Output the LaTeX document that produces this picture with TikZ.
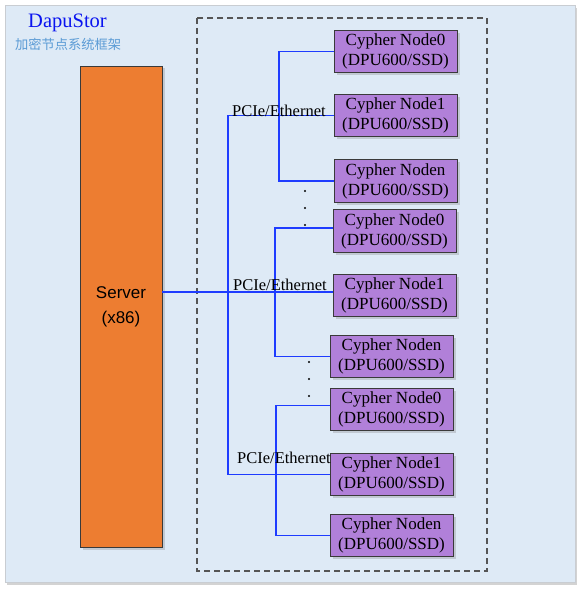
\documentclass[tikz,border=0pt]{standalone}
\usepackage{fontspec}
\setmainfont{Liberation Serif}
\setsansfont{Liberation Sans}
\newfontfamily\cjkfont{Noto Sans CJK SC}
\usetikzlibrary{positioning}
\usetikzlibrary{shadows}
\definecolor{panelblue}{HTML}{DEEAF6}
\definecolor{panelrim}{HTML}{C9CDD2}
\definecolor{titleblue}{HTML}{0A14F0}
\definecolor{subblue}{HTML}{5B9BD5}
\definecolor{serverorange}{HTML}{ED7D31}
\definecolor{cypherpurple}{HTML}{B180D9}
\definecolor{boxedge}{HTML}{3A3A3A}
\definecolor{busblue}{HTML}{1E3CFF}
\definecolor{frame}{HTML}{555555}

\begin{document}
\begin{tikzpicture}[x=1pt,y=-1pt,node distance=21pt]
						\tikzstyle{cypher} = [rectangle, draw=boxedge, line width=0.9pt, fill=cypherpurple, minimum width=123pt, minimum height=42.5pt, inner sep=0pt, outer sep=0pt, align=center, font=\fontsize{17}{20}\selectfont, drop shadow={shadow xshift=2.5pt, shadow yshift=-2.5pt, opacity=0.3}]
						\tikzstyle{server} = [rectangle, draw=boxedge, line width=0.9pt, fill=serverorange, minimum width=82pt, minimum height=481pt, inner sep=0pt, outer sep=0pt, align=center, font=\fontsize{17}{25}\sffamily, drop shadow={shadow xshift=2.5pt, shadow yshift=-2.5pt, opacity=0.3}]
						\tikzstyle{bus} = [draw=busblue, line width=1.7pt]
						\tikzstyle{busname} = [anchor=base west, inner sep=0pt, font=\fontsize{16.5}{18}\selectfont]
						\useasboundingbox (0,0) rectangle (585,594);
						\path [fill=panelblue, draw=panelrim, drop shadow={shadow xshift=2pt, shadow yshift=-3pt, opacity=0.35}] (5,5) rectangle (575,582);
						\draw [frame, line width=1.3pt, dash pattern=on 6pt off 4pt] (197,18) rectangle (487,571);
						\node [anchor=west, inner sep=0pt, text=titleblue, font=\fontsize{20.5}{22}\selectfont](title) at (28,23) {DapuStor};
						\node [anchor=west, inner sep=0pt, text=subblue, font=\fontsize{13.25}{15}\cjkfont](subtitle) at (15,44.5) {加密节点系统框架};
						\node [server](server) at (121,306.5) {Server\\(x86)};
						% cypher nodes
						\node [cypher](n10) at (395.5,51.5) {Cypher Node0\\(DPU600/SSD)};
						\node [cypher,below=21.5pt of n10](n11) {Cypher Node1\\(DPU600/SSD)};
						\node [cypher,below=23pt of n11](n1n) {Cypher Noden\\(DPU600/SSD)};
						\node [cypher,below=7.5pt of n1n,xshift=-1pt](n20) {Cypher Node0\\(DPU600/SSD)};
						\node [cypher,below=22pt of n20](n21) {Cypher Node1\\(DPU600/SSD)};
						\node [cypher,below=18.5pt of n21,xshift=-3pt](n2n) {Cypher Noden\\(DPU600/SSD)};
						\node [cypher,below=10.5pt of n2n](n30) {Cypher Node0\\(DPU600/SSD)};
						\node [cypher,below=22.5pt of n30](n31) {Cypher Node1\\(DPU600/SSD)};
						\node [cypher,below=18.5pt of n31](n3n) {Cypher Noden\\(DPU600/SSD)};
						% buses
						\coordinate (hub) at (228,292);
						\coordinate (fan1) at (279,116);
						\coordinate (fan2) at (275,292);
						\coordinate (fan3) at (276,474);
						\draw [bus] (server.east |- hub) -- (hub);
						\draw [bus] (n11.west) -| (hub) |- (n31.west);
						\draw [bus] (hub) -- (hub -| n21.west);
						\draw [bus] (n10.west) -| (fan1) |- (n1n.west);
						\draw [bus] ([yshift=3pt]n20.west) -| (fan2) |- (n2n.west);
						\draw [bus] ([yshift=4pt]n30.west) -| (fan3) |- (n3n.west);
						\node [busname](lbl1) at (232,116.5) {PCIe/Ethernet};
						\node [busname](lbl2) at (233,290) {PCIe/Ethernet};
						\node [busname](lbl3) at (237,463) {PCIe/Ethernet};
						\foreach \y in {191,208,225} \fill (305,\y) circle (1.1pt);
						\foreach \y in {362,379,396} \fill (309,\y) circle (1.1pt);
					\end{tikzpicture}
\end{document}
